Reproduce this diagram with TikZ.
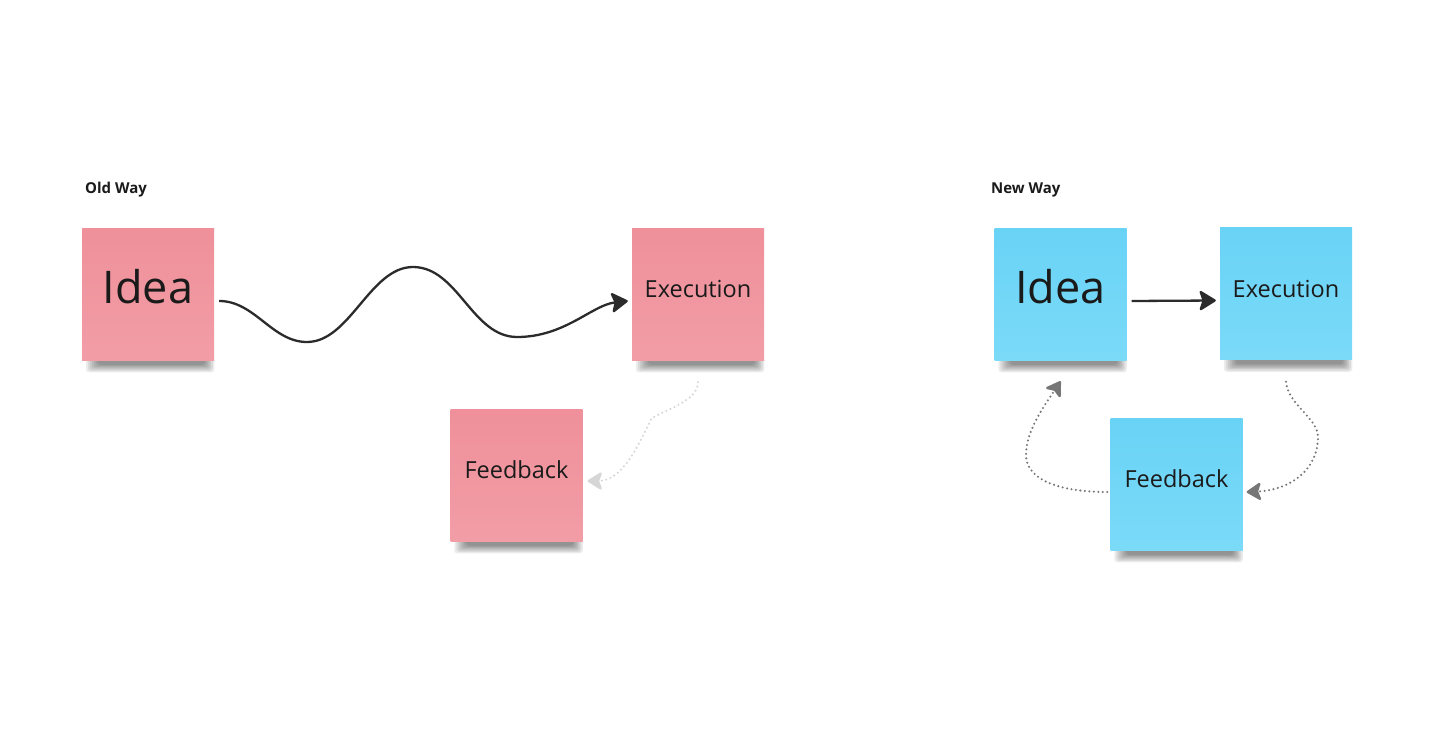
\documentclass[tikz,border=0pt]{standalone}
\usepackage{fontspec}
\setmainfont{Open Sans}
\usetikzlibrary{arrows.meta,backgrounds,calc}
\definecolor{pinktop}{HTML}{EF909A}
\definecolor{pinkbot}{HTML}{F29DA6}
\definecolor{bluetop}{HTML}{69D3F6}
\definecolor{bluebot}{HTML}{7BDAF8}
\definecolor{darkline}{HTML}{2B2B2B}
\definecolor{grayline}{HTML}{767676}
\definecolor{lightline}{HTML}{D6D6D6}
\definecolor{notetext}{HTML}{1A1A1A}
\tikzset{
  note/.style={minimum width=132pt, minimum height=132pt, inner sep=0pt, text=notetext},
  pinknote/.style={note, top color=pinktop, bottom color=pinkbot},
  bluenote/.style={note, top color=bluetop, bottom color=bluebot},
  bigtext/.style={font=\fontsize{45}{50}\selectfont, text depth=16pt},
  midtext/.style={font=\fontsize{23.5}{28}\selectfont, text depth=10pt},
  heading/.style={font=\bfseries\fontsize{15}{18}\selectfont, anchor=base west, inner sep=0pt, text=notetext},
  solidarrow/.style={draw=darkline, line width=2.3pt, -{Stealth[length=18pt,width=22pt,inset=3.5pt,round]}},
  dotarrow/.style={line width=2.3pt, dash pattern=on 0pt off 4.5pt, line cap=round, -{Stealth[length=16pt,width=20pt,inset=3.5pt,round]}},
}
\newcommand{\stickyshadow}[1]{%
  \foreach \k in {1,...,7}{%
    \fill[black, opacity=0.075, rounded corners=3pt]
      ($(#1.south west)+(18-2*\k,-3)$) rectangle ($(#1.south east)+(-11+1.6*\k,3+1.3*\k)$);
  }%
}
\begin{document}
\begin{tikzpicture}[x=1pt,y=-1pt]
  \useasboundingbox (0,0) rectangle (1456,733);

  % headings
  \node[heading] (oldway) at (85,193) {Old Way};
  \node[heading] (newway) at (991,193) {New Way};

  % notes
  \node[pinknote, bigtext] (ideaA) at (148,294) {Idea};
  \node[pinknote, midtext] (execA) at (698,294) {Execution};
  \node[pinknote, midtext] (feedA) at (516.5,475) {Feedback};
  \node[bluenote, bigtext] (ideaB) at (1060.5,294) {Idea};
  \node[bluenote, midtext] (execB) at (1286,293.5) {Execution};
  \node[bluenote, midtext] (feedB) at (1176.5,484) {Feedback};

  \begin{scope}[on background layer]
    \fill[white] (0,0) rectangle (1456,733);
    \stickyshadow{ideaA}
    \stickyshadow{execA}
    \stickyshadow{feedA}
    \stickyshadow{ideaB}
    \stickyshadow{execB}
    \stickyshadow{feedB}
  \end{scope}

  % old way: wavy arrow
  \draw[solidarrow] ([xshift=5pt,yshift=-7pt]ideaA.east)
      .. controls (255,301) and (272,342) .. (307,342)
      .. controls (350,342) and (370,267) .. (413,267)
      .. controls (458,267) and (472,337) .. (517,337)
      .. controls (565,337) and (592,305) .. ([xshift=-4pt,yshift=-7pt]execA.west);

  % old way: faint dotted feedback arrow
  \draw[dotarrow, draw=lightline] ([yshift=-22pt]execA.south)
      .. controls (698,400) and (670,408) .. (652,418)
      .. controls (642,436) and (625,481) .. ([xshift=5pt,yshift=-6pt]feedA.east);

  % new way: straight arrow
  \draw[solidarrow] ([xshift=5pt,yshift=-7pt]ideaB.east) -- ([xshift=-4pt,yshift=-7pt]execB.west);

  % new way: execution -> feedback
  \draw[dotarrow, draw=grayline] ([yshift=-22pt]execB.south)
      .. controls (1288,405) and (1318,418) .. (1318,437)
      .. controls (1318,470) and (1290,490) .. ([xshift=4pt,yshift=-8pt]feedB.east);

  % new way: feedback -> idea
  \draw[dotarrow, draw=grayline] ([xshift=-3pt,yshift=-8pt]feedB.west)
      .. controls (1060,492) and (1026,480) .. (1026,455)
      .. controls (1026,430) and (1045,405) .. ([yshift=-21pt]ideaB.south);
\end{tikzpicture}
\end{document}
